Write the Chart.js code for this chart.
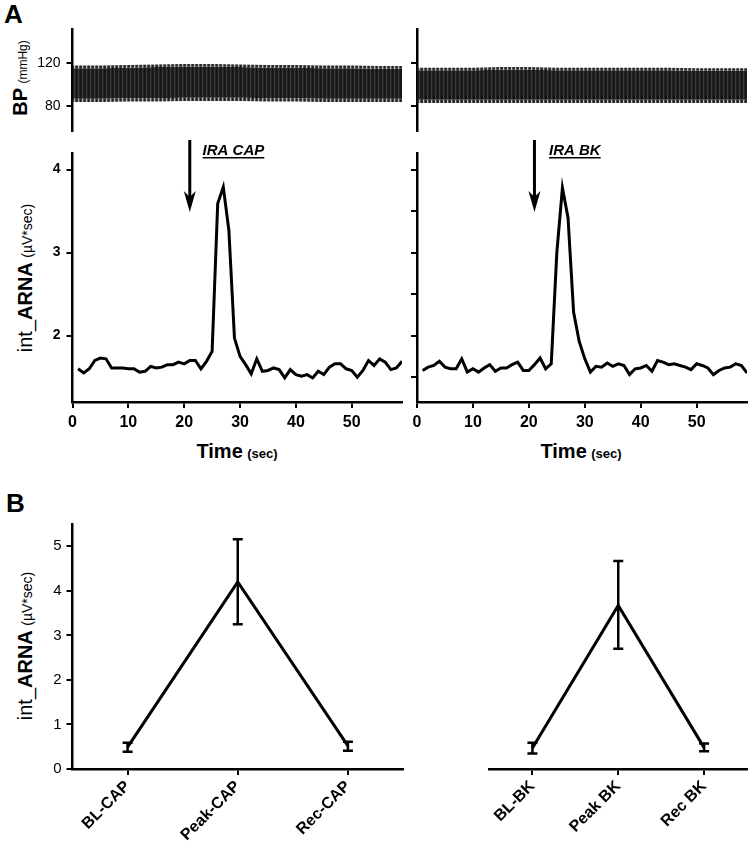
<!DOCTYPE html>
<html>
<head>
<meta charset="utf-8">
<script src="https://cdn.jsdelivr.net/npm/chart.js@4.4.1/dist/chart.umd.min.js"></script>
<style>
  body { margin:0; background:#fff; }
  #wrap { position:relative; width:750px; height:847px; font-family: Arial, "Liberation Sans", sans-serif; color:#000; overflow:hidden; }
  canvas { position:absolute; }
  .lbl { position:absolute; white-space:nowrap; line-height:1; }
  .ytitle { position:absolute; white-space:nowrap; line-height:1; transform: translate(-50%,-50%) rotate(-90deg); }
  .xtitle { position:absolute; white-space:nowrap; line-height:1; transform: translate(-50%,-50%); font-family:"Liberation Sans Narrow", Arial, sans-serif; font-weight:bold; }
</style>
</head>
<body>
<div id="wrap">
  <div class="lbl" style="left:4px;top:1px;font-size:26px;font-weight:bold">A</div>
  <div class="lbl" style="left:6px;top:490px;font-size:26px;font-weight:bold">B</div>

  <div class="ytitle" style="left:20px;top:78px"><b style="font-size:20px">BP</b> <span style="font-size:12px">(mmHg)</span></div>
  <div class="ytitle" style="left:25px;top:278px"><span style="font-size:20px">int_<b>ARNA</b></span> <span style="font-size:14px">(µV*sec)</span></div>
  <div class="ytitle" style="left:25px;top:646px"><span style="font-size:20px">int_<b>ARNA</b></span> <span style="font-size:14px">(µV*sec)</span></div>

  <div class="xtitle" style="left:237px;top:451px"><span style="font-size:20px">Time</span> <span style="font-size:13px">(sec)</span></div>
  <div class="xtitle" style="left:581px;top:451px"><span style="font-size:20px">Time</span> <span style="font-size:13px">(sec)</span></div>

  <canvas id="bpL" width="410" height="120" style="left:0;top:20px"></canvas>
  <canvas id="bpR" width="345" height="120" style="left:405px;top:20px"></canvas>
  <canvas id="arL" width="410" height="295" style="left:0;top:140px"></canvas>
  <canvas id="arR" width="345" height="295" style="left:405px;top:140px"></canvas>
  <canvas id="bL" width="410" height="347" style="left:0;top:500px"></canvas>
  <canvas id="bR" width="345" height="347" style="left:405px;top:500px"></canvas>
</div>

<script>
// ---- panel A: blood pressure envelope (sampled every 5 s) ----
const bpTime    = [0, 5, 10, 15, 20, 25, 30, 35, 40, 45, 50, 55, 59];
const bpSysTipL = [118, 118, 118.5, 119, 119.5, 119.5, 119, 118.5, 118.5, 118, 118, 117.5, 117.5];
const bpSysL    = [115.5, 115.5, 116, 116.5, 117, 117, 116.5, 116, 116, 115.5, 115.5, 115, 115];
const bpDiaL    = [87, 87, 87.5, 87.5, 88, 88, 88, 87.5, 87.5, 87, 87, 87, 87];
const bpDiaTipL = [84, 84, 84.5, 84.5, 85, 85, 85, 84.5, 84.5, 84, 84, 84, 84];
const bpSysTipR = [116, 116, 116, 116.5, 116.5, 116, 116, 116, 116, 116, 115.5, 115.5, 115.5];
const bpSysR    = [113.5, 113.5, 113.5, 114, 114, 113.5, 113.5, 113.5, 113.5, 113.5, 113, 113, 113];
const bpDiaR    = [86, 86, 86, 86, 86, 86, 86, 86, 86, 86, 86, 86, 86];
const bpDiaTipR = [83, 83, 83, 83, 83, 83, 83, 83, 83, 83, 83, 83, 83];
const bpTicks   = [80, 120];

// ---- panel A: integrated ARNA, one value per second (t = 1..59) ----
const capTrace = [1.60,1.55,1.60,1.70,1.73,1.72,1.61,1.61,1.61,1.60,1.60,1.56,1.57,1.63,1.61,1.62,1.65,1.65,1.68,1.66,
                  1.70,1.70,1.60,1.69,1.81,3.59,3.79,3.27,1.97,1.75,1.65,1.54,1.72,1.57,1.58,1.61,1.59,1.49,1.59,1.53,
                  1.51,1.53,1.49,1.57,1.53,1.62,1.66,1.66,1.60,1.58,1.50,1.58,1.70,1.64,1.72,1.68,1.59,1.61,1.69];
const bkTrace  = [1.58,1.62,1.64,1.69,1.62,1.60,1.60,1.72,1.56,1.60,1.56,1.61,1.65,1.57,1.61,1.61,1.65,1.68,1.58,1.58,
                  1.65,1.73,1.60,1.66,3.00,3.78,3.42,2.28,1.93,1.72,1.56,1.63,1.62,1.67,1.63,1.66,1.64,1.53,1.60,1.61,
                  1.64,1.57,1.70,1.68,1.65,1.66,1.64,1.62,1.59,1.66,1.64,1.61,1.53,1.58,1.61,1.62,1.66,1.64,1.55];
const timeTicks   = [0, 10, 20, 30, 40, 50];
const arnaTicksL  = [2, 3, 4];
const arnaTicksR  = [1.5, 2, 2.5, 3, 3.5, 4];

// injection markers: time of arrow, arrow from/to (µV*sec), label
const injLabels = ['IRA CAP', 'IRA BK'];
const injTime   = [21, 21];
const injFrom   = [4.36, 4.36];
const injTo     = [3.49, 3.49];
const injTextT  = [23.3, 23.6];
const injTextY  = [4.18, 4.18];

// ---- panel B: group means with error bars ----
const capCats = ['BL-CAP', 'Peak-CAP', 'Rec-CAP'];
const capMean = [0.49, 4.20, 0.52];
const capLo   = [0.39, 3.25, 0.41];
const capHi   = [0.59, 5.16, 0.61];
const bkCats  = ['BL-BK', 'Peak BK', 'Rec BK'];
const bkMean  = [0.47, 3.67, 0.48];
const bkLo    = [0.35, 2.70, 0.40];
const bkHi    = [0.59, 4.67, 0.57];
const bTicks  = [0, 1, 2, 3, 4, 5];

Chart.defaults.font.family = 'Arial, "Liberation Sans", sans-serif';
Chart.defaults.color = '#000';
Chart.defaults.animation = false;
Chart.defaults.responsive = false;
Chart.defaults.plugins.legend.display = false;
Chart.defaults.plugins.tooltip.enabled = false;

const border = { display: true, color: '#000', width: 2.5 };
const grid = { drawOnChartArea: false, drawTicks: true, tickLength: 6, color: '#000', lineWidth: 2 };

function fixY(w) { return s => { s.width = w; s.paddingTop = 0; s.paddingBottom = 0; }; }
function fixX(h) { return s => { s.height = h; s.paddingLeft = 0; s.paddingRight = 0; }; }
function setTicks(arr) { return s => { s.ticks = arr.map(v => ({ value: v })); }; }
function pts(xs, ys) { return ys.map((v, i) => ({ x: xs[i], y: v })); }

// dense pressure trace texture
function stripes(cols) {
    const c = document.createElement('canvas');
    c.width = cols.length; c.height = 1;
    const g = c.getContext('2d');
    cols.forEach((col, i) => { g.fillStyle = col; g.fillRect(i, 0, 1, 1); });
    return g.createPattern(c, 'repeat');
}
const bodyFill  = stripes(['#141414', '#1b1b1b', '#3a3a3a', '#222']);
const toothFill = stripes(['#222', '#333', '#bbb', '#555']);

function bpChart(id, sysTip, sys, dia, diaTip, yw, pad, showLabels) {
    const band = (d, fill, bg) => ({ data: pts(bpTime, d), borderWidth: 0, pointRadius: 0, fill: fill, backgroundColor: bg });
    new Chart(document.getElementById(id), {
        type: 'line',
        data: { datasets: [
            band(sysTip, '+1', toothFill),
            band(sys, '+1', bodyFill),
            band(dia, '+1', toothFill),
            band(diaTip, false, 'transparent')
        ] },
        options: {
            layout: { padding: pad },
            scales: {
                x: { type: 'linear', display: false, min: 0, max: 59 },
                y: { min: 57, max: 152, border: border, grid: grid,
                     afterFit: fixY(yw), afterBuildTicks: setTicks(bpTicks),
                     ticks: { display: showLabels, padding: 6, font: { size: 14 } } }
            }
        }
    });
}

const arrows = {
    id: 'arrows',
    afterDatasetsDraw(chart, args, o) {
        if (o.i === undefined) return;
        const { ctx, scales: { x, y } } = chart;
        const px = x.getPixelForValue(injTime[o.i]);
        const top = y.getPixelForValue(injFrom[o.i]);
        const tip = y.getPixelForValue(injTo[o.i]);
        ctx.save();
        ctx.strokeStyle = '#000'; ctx.fillStyle = '#000';
        ctx.lineWidth = 3;
        ctx.beginPath(); ctx.moveTo(px, top); ctx.lineTo(px, tip - 12); ctx.stroke();
        ctx.beginPath();
        ctx.moveTo(px, tip); ctx.lineTo(px - 6, tip - 21); ctx.lineTo(px, tip - 15); ctx.lineTo(px + 6, tip - 21);
        ctx.closePath(); ctx.fill();
        const tx = x.getPixelForValue(injTextT[o.i]);
        const ty = y.getPixelForValue(injTextY[o.i]);
        ctx.font = 'italic bold 15px Arial, "Liberation Sans", sans-serif';
        ctx.textBaseline = 'alphabetic';
        ctx.fillText(injLabels[o.i], tx, ty);
        const w = ctx.measureText(injLabels[o.i]).width;
        ctx.lineWidth = 1.5;
        ctx.beginPath(); ctx.moveTo(tx, ty + 3); ctx.lineTo(tx + w, ty + 3); ctx.stroke();
        ctx.restore();
    }
};

function arnaChart(id, trace, yTicks, yw, pad, showY, idx) {
    new Chart(document.getElementById(id), {
        type: 'line',
        data: { datasets: [{
            data: trace.map((v, i) => ({ x: i + 1, y: v })),
            borderColor: '#000', borderWidth: 3, pointRadius: 0, tension: 0
        }] },
        options: {
            layout: { padding: pad },
            plugins: { arrows: { i: idx } },
            scales: {
                x: { type: 'linear', min: 0, max: 59, border: border, grid: grid,
                     afterFit: fixX(30), afterBuildTicks: setTicks(timeTicks),
                     ticks: { padding: 5, maxRotation: 0,
                              font: { family: '"Liberation Sans Narrow", Arial, sans-serif', size: 16, weight: 'bold' } } },
                y: { min: 1.2, max: 4.2, border: border, grid: grid,
                     afterFit: fixY(yw), afterBuildTicks: setTicks(yTicks),
                     ticks: { display: showY, padding: 6, font: { size: 14, weight: 'bold' } } }
            }
        },
        plugins: [arrows]
    });
}

const errorBars = {
    id: 'errorBars',
    afterDatasetsDraw(chart, args, o) {
        if (!o.lo) return;
        const { ctx, scales: { x, y } } = chart;
        ctx.save();
        ctx.strokeStyle = '#000'; ctx.lineWidth = 2.5;
        o.lo.forEach((l, i) => {
            const px = x.getPixelForValue(i);
            const y1 = y.getPixelForValue(l), y2 = y.getPixelForValue(o.hi[i]);
            ctx.beginPath();
            ctx.moveTo(px, y1); ctx.lineTo(px, y2);
            ctx.moveTo(px - 5, y1); ctx.lineTo(px + 5, y1);
            ctx.moveTo(px - 5, y2); ctx.lineTo(px + 5, y2);
            ctx.stroke();
        });
        ctx.restore();
    }
};

function groupChart(id, cats, mean, lo, hi, showY, pad) {
    new Chart(document.getElementById(id), {
        type: 'line',
        data: { labels: cats, datasets: [{ data: mean, borderColor: '#000', borderWidth: 3, pointRadius: 0, tension: 0 }] },
        options: {
            layout: { padding: pad },
            plugins: { errorBars: { lo: lo, hi: hi } },
            scales: {
                x: { type: 'category', offset: true, border: border,
                     grid: Object.assign({}, grid, { offset: false }),
                     afterFit: fixX(78),
                     ticks: { minRotation: 45, maxRotation: 45, padding: 2, font: { size: 16, weight: 'bold' } } },
                y: { display: showY, min: 0, max: 5.5, border: border, grid: grid,
                     afterFit: fixY(72.5), afterBuildTicks: setTicks(bTicks),
                     ticks: { padding: 5, font: { size: 15 } } }
            }
        },
        plugins: [errorBars]
    });
}

bpChart('bpL', bpSysTipL, bpSysL, bpDiaL, bpDiaTipL, 72.5, { top: 9, bottom: 9, left: 0, right: 8 }, true);
bpChart('bpR', bpSysTipR, bpSysR, bpDiaR, bpDiaTipR, 12, { top: 9, bottom: 9, left: 0, right: 3 }, false);
arnaChart('arL', capTrace, arnaTicksL, 72.5, { top: 13, bottom: 3, left: 0, right: 8 }, true, 0);
arnaChart('arR', bkTrace, arnaTicksR, 12, { top: 13, bottom: 3, left: 0, right: 3 }, false, 1);
groupChart('bL', capCats, capMean, capLo, capHi, true, { top: 24, bottom: 0, left: 0, right: 7 });
groupChart('bR', bkCats, bkMean, bkLo, bkHi, false, { top: 24, bottom: 0, left: 12, right: 3 });
</script>
</body>
</html>
